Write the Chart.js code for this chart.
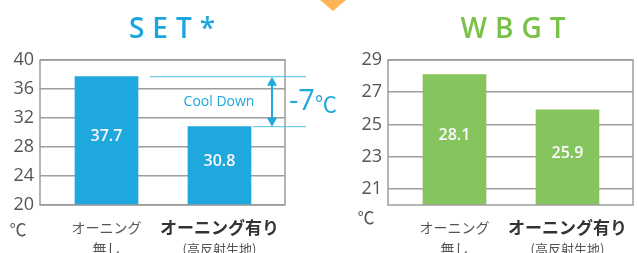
<!DOCTYPE html>
<html>
<head>
<meta charset="utf-8">
<script src="https://cdn.jsdelivr.net/npm/chart.js@4"></script>
<style>
  html, body { margin: 0; padding: 0; background: #fff; }
  #wrap { position: relative; width: 637px; height: 253px; overflow: hidden; }
  #setBox { position: absolute; left: 0; top: 0; width: 345px; height: 253px; }
  #wbgtBox { position: absolute; left: 345px; top: 0; width: 292px; height: 253px; }
  #marker { position: absolute; left: 320px; top: 0; width: 0; height: 0;
            border-left: 13px solid transparent; border-right: 13px solid transparent;
            border-top: 11px solid #fdb557; }
</style>
</head>
<body>
<div id="wrap">
  <div id="marker"></div>
  <div id="setBox"><canvas id="setChart"></canvas></div>
  <div id="wbgtBox"><canvas id="wbgtChart"></canvas></div>
</div>
<script>
// SET* / WBGT comparison - awning vs no awning

const categories = [['オーニング', '無し'], ['オーニング有り', '(高反射生地)']];
const setValues = [37.7, 30.8];
const wbgtValues = [28.1, 25.9];
const setTicks = [20, 24, 28, 32, 36, 40];
const wbgtTicks = [21, 23, 25, 27, 29];
const unitLabel = '℃';
const coolDownLabel = 'Cool Down';
const diffLabel = '-7';

const GRID = '#9d9d9d';
const BLUE = '#1fa8dd';
const GREEN = '#86c45e';
const JP_FONT = '"Noto Sans CJK JP", "Noto Sans", sans-serif';

// Draws titles, frame, category labels, value labels and the unit mark
const decorPlugin = {
    id: 'decor',
    afterDraw(chart, args, opts) {
        const ctx = chart.ctx;
        const area = chart.chartArea;
        const xs = chart.scales.x;
        const meta = chart.getDatasetMeta(0);
        ctx.save();

        // frame around the plot
        ctx.strokeStyle = GRID;
        ctx.lineWidth = 1.5;
        ctx.strokeRect(area.left, area.top, area.right - area.left, area.bottom - area.top);

        // title
        ctx.fillStyle = opts.titleColor;
        ctx.font = '600 28px "Open Sans", sans-serif';
        ctx.letterSpacing = '8px';
        ctx.textAlign = 'center';
        ctx.textBaseline = 'middle';
        ctx.fillText(opts.title, opts.titleX + 4, 30);
        ctx.letterSpacing = '0px';

        // values inside bars
        ctx.fillStyle = '#fbf8ff';
        ctx.font = '600 16px "Open Sans", sans-serif';
        meta.data.forEach((bar, i) => {
            const mid = (bar.y + area.bottom) / 2 - 4;
            ctx.fillText(chart.data.datasets[0].data[i].y.toFixed(1), bar.x, mid);
        });

        // category labels under the axis
        categories.forEach((lines, i) => {
            const x = xs.getPixelForValue(i);
            if (i === 0) {
                ctx.fillStyle = '#555';
                ctx.font = '14px ' + JP_FONT;
                ctx.fillText(lines[0], x, 228);
                ctx.fillText(lines[1], x, 249);
            } else {
                ctx.fillStyle = '#333';
                ctx.font = 'bold 17px ' + JP_FONT;
                ctx.fillText(lines[0], x, 228);
                ctx.fillStyle = '#555';
                ctx.font = '13px ' + JP_FONT;
                ctx.fillText(lines[1], x, 249);
            }
        });

        // unit
        ctx.fillStyle = '#555';
        ctx.font = '17px ' + JP_FONT;
        ctx.fillText(unitLabel, opts.unitX, opts.unitY);
        ctx.restore();
    }
};

// Cool Down bracket between the two SET* bars
const coolDownPlugin = {
    id: 'coolDown',
    afterDraw(chart) {
        const ctx = chart.ctx;
        const area = chart.chartArea;
        const ys = chart.scales.y;
        const bars = chart.getDatasetMeta(0).data;
        const yTop = ys.getPixelForValue(setValues[0]);
        const yBot = ys.getPixelForValue(setValues[1]);
        const lineEnd = area.right + 21;
        const arrowX = area.right - 13;

        ctx.save();
        ctx.strokeStyle = '#55c1ec';
        ctx.lineWidth = 1;
        ctx.beginPath();
        ctx.moveTo(bars[0].x + bars[0].width / 2 + 12, yTop);
        ctx.lineTo(lineEnd, yTop);
        ctx.moveTo(bars[1].x + bars[1].width / 2 + 2, yBot);
        ctx.lineTo(lineEnd, yBot);
        ctx.stroke();

        // double arrow
        ctx.strokeStyle = BLUE;
        ctx.fillStyle = BLUE;
        ctx.lineWidth = 2;
        ctx.beginPath();
        ctx.moveTo(arrowX, yTop + 6);
        ctx.lineTo(arrowX, yBot - 6);
        ctx.stroke();
        ctx.beginPath();
        ctx.moveTo(arrowX, yTop);
        ctx.lineTo(arrowX - 5, yTop + 9);
        ctx.lineTo(arrowX + 5, yTop + 9);
        ctx.closePath();
        ctx.moveTo(arrowX, yBot);
        ctx.lineTo(arrowX - 5, yBot - 9);
        ctx.lineTo(arrowX + 5, yBot - 9);
        ctx.closePath();
        ctx.fill();

        const midY = (yTop + yBot) / 2;
        ctx.textBaseline = 'middle';
        ctx.textAlign = 'center';
        ctx.font = '14px "Open Sans", sans-serif';
        ctx.fillText(coolDownLabel, 219, midY);

        ctx.textAlign = 'left';
        ctx.font = '29px "Open Sans", sans-serif';
        ctx.fillText(diffLabel, area.right + 4, midY);
        const w = ctx.measureText(diffLabel).width;
        ctx.font = '22px ' + JP_FONT;
        ctx.fillText(unitLabel, area.right + 4 + w, midY + 2);
        ctx.restore();
    }
};

function buildChart(canvasId, values, ticks, color, extra) {
    const ctx = document.getElementById(canvasId).getContext('2d');
    return new Chart(ctx, {
        type: 'bar',
        data: {
            datasets: [{
                data: values.map((v, i) => ({ x: i, y: v })),
                backgroundColor: color,
                borderWidth: 0,
                barThickness: 63
            }]
        },
        options: {
            responsive: true,
            maintainAspectRatio: false,
            animation: false,
            layout: {
                padding: { left: 0, right: extra.padRight, top: 60, bottom: 0 }
            },
            plugins: {
                legend: { display: false },
                tooltip: { enabled: false },
                decor: extra.decor
            },
            scales: {
                x: {
                    type: 'linear',
                    offset: false,
                    min: -0.5885,
                    max: 1.58,
                    ticks: { display: false },
                    grid: { display: false, offset: false },
                    border: { display: false },
                    afterFit: function(scale) { scale.height = 48; }
                },
                y: {
                    beginAtZero: false,
                    min: extra.yMin,
                    max: ticks[ticks.length - 1],
                    afterBuildTicks: function(scale) {
                        scale.ticks = ticks.map(v => ({ value: v }));
                    },
                    afterFit: function(scale) { scale.width = extra.axisWidth; },
                    grid: { color: GRID, lineWidth: 1.5, drawTicks: false },
                    border: { display: false },
                    ticks: {
                        color: '#555',
                        padding: 6,
                        font: { family: '"Open Sans", sans-serif', size: 18 }
                    }
                }
            }
        },
        plugins: extra.plugins
    });
}

buildChart('setChart', setValues, setTicks, BLUE, {
    padRight: 60,
    axisWidth: 40,
    yMin: 20,
    decor: { title: 'SET*', titleColor: '#1ca6df', titleX: 172, unitX: 18, unitY: 230 },
    plugins: [decorPlugin, coolDownPlugin]
});

buildChart('wbgtChart', wbgtValues, wbgtTicks, GREEN, {
    padRight: 4,
    axisWidth: 43,
    yMin: 20,
    decor: { title: 'WBGT', titleColor: '#79c247', titleX: 168, unitX: 21, unitY: 218 },
    plugins: [decorPlugin]
});
</script>
</body>
</html>
